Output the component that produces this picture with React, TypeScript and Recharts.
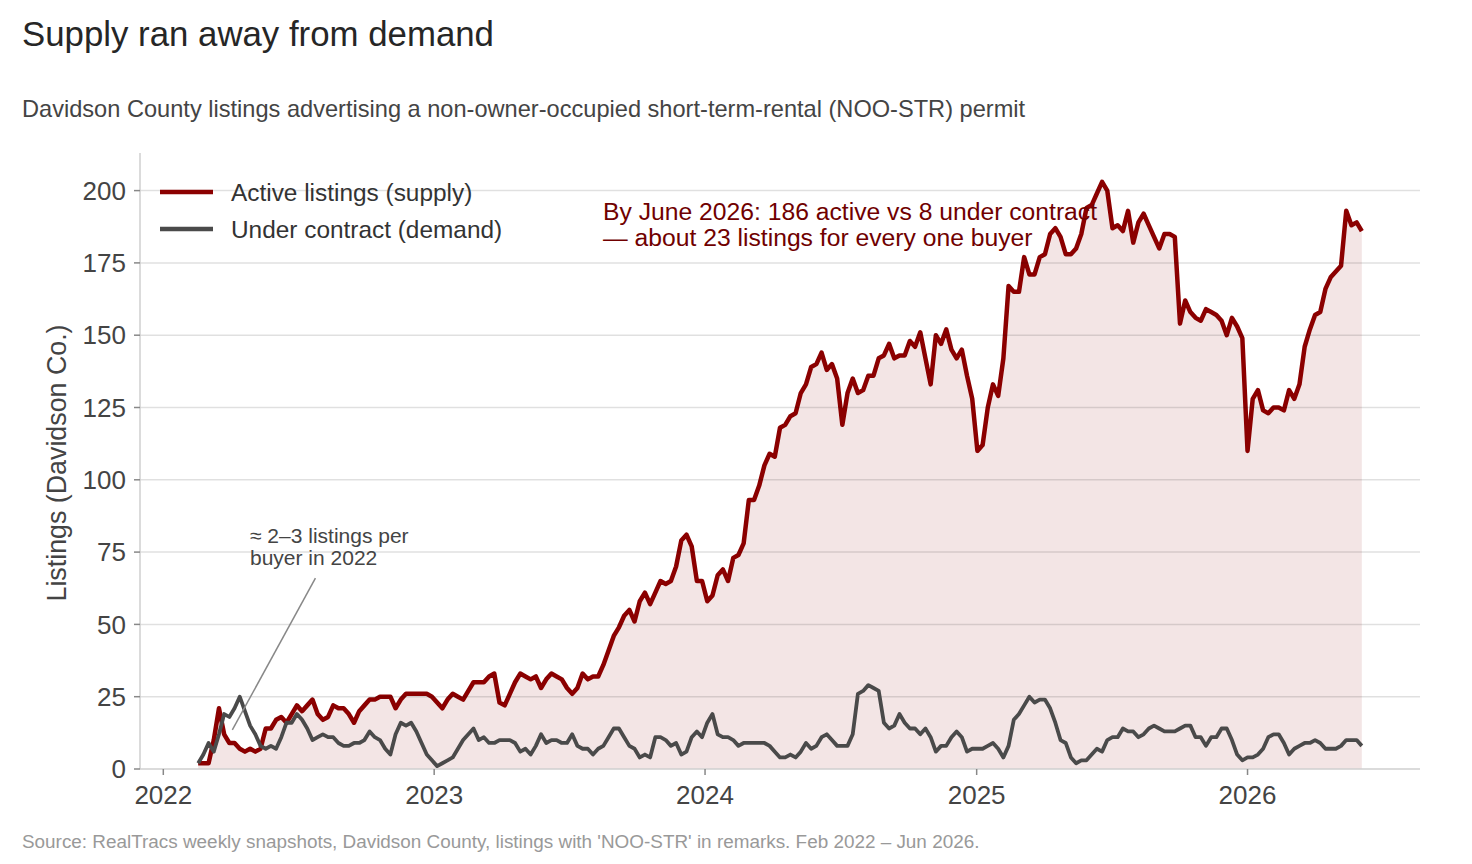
import {
  ComposedChart,
  Area,
  Line,
  XAxis,
  YAxis,
  ReferenceLine,
} from "recharts";

// weekly snapshots, first week below, one value per week
const FIRST_WEEK = "2022-02-17";

const ACTIVE = [
  2, 2, 2, 10, 21, 12, 9, 9, 7, 6,
  7, 6, 7, 14, 14, 17, 18, 16, 19, 22,
  20, 22, 24, 19, 17, 18, 22, 21, 21, 19,
  16, 20, 22, 24, 24, 25, 25, 25, 21, 24,
  26, 26, 26, 26, 26, 25, 23, 21, 24, 26,
  25, 24, 27, 30, 30, 30, 32, 33, 23, 22,
  26, 30, 33, 32, 31, 32, 28, 31, 33, 32,
  31, 28, 26, 28, 33, 31, 32, 32, 36, 41,
  46, 49, 53, 55, 51, 58, 61, 57, 61, 65,
  64, 65, 70, 79, 81, 77, 65, 65, 58, 60,
  67, 69, 65, 73, 74, 78, 93, 93, 98, 105,
  109, 108, 118, 119, 122, 123, 130, 133, 139, 140,
  144, 138, 140, 135, 119, 130, 135, 130, 131, 136,
  136, 142, 143, 147, 142, 143, 143, 148, 146, 151,
  142, 133, 150, 147, 152, 145, 142, 145, 136, 128,
  110, 112, 125, 133, 129, 142, 167, 165, 165, 177,
  171, 171, 177, 178, 185, 187, 184, 178, 178, 180,
  185, 194, 195, 199, 203, 200, 187, 188, 186, 193,
  182, 189, 192, 188, 184, 180, 185, 185, 184, 154,
  162, 158, 156, 155, 159, 158, 157, 155, 150, 156,
  153, 149, 110, 128, 131, 124, 123, 125, 125, 124,
  131, 128, 133, 146, 152, 157, 158, 166, 170, 172,
  174, 193, 188, 189, 186,
];

const UNDER_CONTRACT = [
  2, 5, 9, 6, 12, 19, 18, 21, 25, 20,
  15, 12, 8, 7, 8, 7, 11, 16, 16, 19,
  17, 14, 10, 11, 12, 11, 11, 9, 8, 8,
  9, 9, 10, 13, 11, 10, 7, 5, 12, 16,
  15, 16, 13, 9, 5, 3, 1, 2, 3, 4,
  7, 10, 12, 14, 10, 11, 9, 9, 10, 10,
  10, 9, 6, 7, 5, 8, 12, 9, 10, 10,
  9, 9, 12, 8, 7, 7, 5, 7, 8, 11,
  14, 14, 11, 8, 7, 4, 5, 4, 11, 11,
  10, 8, 9, 5, 6, 11, 13, 11, 16, 19,
  12, 11, 11, 10, 8, 9, 9, 9, 9, 9,
  8, 6, 4, 4, 5, 4, 6, 9, 7, 8,
  11, 12, 10, 8, 8, 8, 12, 26, 27, 29,
  28, 27, 16, 14, 15, 19, 16, 14, 14, 12,
  14, 11, 6, 8, 8, 11, 13, 11, 6, 7,
  7, 7, 8, 9, 7, 4, 8, 17, 19, 22,
  25, 23, 24, 24, 21, 16, 10, 9, 4, 2,
  3, 3, 5, 7, 6, 10, 11, 11, 14, 13,
  13, 11, 12, 14, 15, 14, 13, 13, 13, 14,
  15, 15, 11, 11, 8, 11, 11, 14, 14, 10,
  5, 3, 4, 4, 5, 7, 11, 12, 12, 9,
  5, 7, 8, 9, 9, 10, 9, 7, 7, 7,
  8, 10, 10, 10, 8,
];

const YEARS = [2022, 2023, 2024, 2025, 2026];
const Y_TICKS = [0, 25, 50, 75, 100, 125, 150, 175, 200];

// annotation pointer for the 2022 note (date, listings)
const NOTE_FROM = { date: "2022-07-25", value: 66 };
const NOTE_TO = { date: "2022-04-04", value: 13.5 };

const DAY = 86400000;
const FONT = "'Liberation Sans', Arial, Helvetica, sans-serif";
const RED = "#8b0000";
const GREY = "#4a4a4a";

const t0 = Date.parse(FIRST_WEEK);
const rows = ACTIVE.map((a, i) => ({
  t: t0 + i * 7 * DAY,
  active: a,
  contract: UNDER_CONTRACT[i],
}));
const tEnd = rows[rows.length - 1].t;
const pad = (tEnd - t0) * 0.05;
const yearTicks = YEARS.map((y) => Date.UTC(y, 0, 1));

const LEGEND = [
  { label: "Active listings (supply)", color: RED },
  { label: "Under contract (demand)", color: GREY },
];

export default function App() {
  return (
    <div
      style={{
        position: "absolute",
        left: 0,
        top: 0,
        width: 1472,
        height: 864,
        background: "#fff",
        fontFamily: FONT,
      }}
    >
      <ComposedChart
        width={1472}
        height={864}
        data={rows}
        margin={{ top: 153, right: 52, bottom: 55, left: 80 }}
      >
        <XAxis
          dataKey="t"
          type="number"
          domain={[t0 - pad, tEnd + pad]}
          ticks={yearTicks}
          tickFormatter={(v) => String(new Date(v).getUTCFullYear())}
          height={40}
          tick={{ fontSize: 26, fill: "#444", fontFamily: FONT }}
          tickLine={{ stroke: "#888", strokeWidth: 1.5 }}
          tickSize={6}
          tickMargin={11}
          axisLine={{ stroke: "#cfcfcf", strokeWidth: 1.5 }}
          allowDataOverflow
        />
        <YAxis
          domain={[0, 213]}
          ticks={Y_TICKS}
          width={60}
          tick={{ fontSize: 26, fill: "#444", fontFamily: FONT }}
          tickLine={{ stroke: "#888", strokeWidth: 1.5 }}
          tickSize={6}
          tickMargin={8}
          axisLine={{ stroke: "#cfcfcf", strokeWidth: 1.5 }}
          allowDataOverflow
        />
        <Area
          type="linear"
          dataKey="active"
          stroke={RED}
          strokeWidth={4.5}
          strokeLinejoin="round"
          fill={RED}
          fillOpacity={0.1}
          dot={false}
          activeDot={false}
          isAnimationActive={false}
        />
        {Y_TICKS.slice(1).map((v) => (
          <ReferenceLine key={v} y={v} stroke="#000" strokeOpacity={0.12} strokeWidth={1.5} />
        ))}
        <Line
          type="linear"
          dataKey="contract"
          stroke={GREY}
          strokeWidth={3.8}
          strokeLinejoin="round"
          dot={false}
          activeDot={false}
          isAnimationActive={false}
        />
        <ReferenceLine
          segment={[
            { x: Date.parse(NOTE_FROM.date), y: NOTE_FROM.value },
            { x: Date.parse(NOTE_TO.date), y: NOTE_TO.value },
          ]}
          stroke="#888"
          strokeWidth={1.5}
        />
      </ComposedChart>

      <svg
        width={1472}
        height={864}
        style={{ position: "absolute", left: 0, top: 0, pointerEvents: "none" }}
        fontFamily={FONT}
      >
        <text x={22} y={46} fontSize={34.8} fill="#262626">
          Supply ran away from demand
        </text>
        <text x={22} y={117} fontSize={23.6} fill="#444">
          Davidson County listings advertising a non-owner-occupied short-term-rental (NOO-STR) permit
        </text>
        {LEGEND.map((it, i) => (
          <g key={it.label}>
            <line x1={160} x2={213} y1={192 + i * 37} y2={192 + i * 37} stroke={it.color} strokeWidth={4.5} />
            <text x={231} y={201 + i * 37} fontSize={24.4} fill="#333">
              {it.label}
            </text>
          </g>
        ))}
        <text x={603} y={220} fontSize={24.7} fill="#700000">
          By June 2026: 186 active vs 8 under contract
        </text>
        <text x={603} y={246} fontSize={24.7} fill="#700000">
          — about 23 listings for every one buyer
        </text>
        <text x={250} y={543} fontSize={21} fill="#444">
          ≈ 2–3 listings per
        </text>
        <text x={250} y={565} fontSize={21} fill="#444">
          buyer in 2022
        </text>
        <text
          x={0}
          y={0}
          fontSize={26.8}
          fill="#444"
          textAnchor="middle"
          transform="translate(66 463) rotate(-90)"
        >
          Listings (Davidson Co.)
        </text>
        <text x={22} y={848} fontSize={18.9} fill="#999">
          Source: RealTracs weekly snapshots, Davidson County, listings with 'NOO-STR' in remarks. Feb 2022 – Jun 2026.
        </text>
      </svg>
    </div>
  );
}
